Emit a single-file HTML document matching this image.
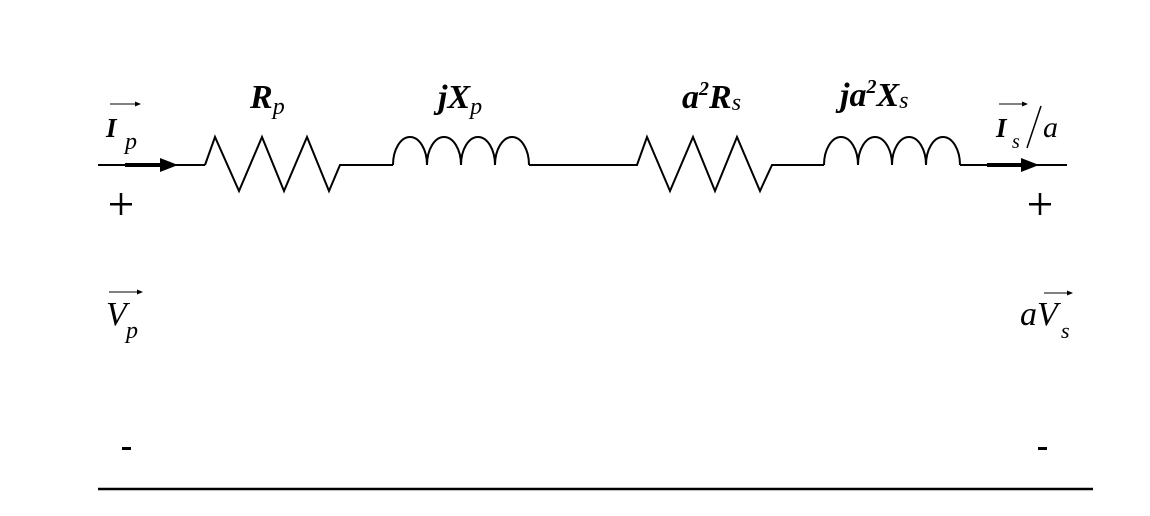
<!DOCTYPE html>
<html><head><meta charset="utf-8"><style>
html,body{margin:0;padding:0;background:#fff;}
svg{display:block;}
text{font-family:"Liberation Serif",serif;font-style:italic;fill:#000;}
</style></head><body>
<svg width="1150" height="516" viewBox="0 0 1150 516" xmlns="http://www.w3.org/2000/svg">
<defs><marker id="sa" markerWidth="6" markerHeight="6" refX="5" refY="3" orient="auto" markerUnits="userSpaceOnUse"><path d="M0,0.5 L6,3 L0,5.5 Z" fill="#000"/></marker></defs>
<g fill="none" stroke="#000" stroke-width="2" stroke-linejoin="miter">
<line x1="98" y1="165" x2="205" y2="165"/>
<polyline points="205,165 215,137 239,191 262,137 284,191 307,137 329,191 340,165 393,165"/>
<path d="M393,165 A17,28 0 0 1 427,165 A17,28 0 0 1 461,165 A17,28 0 0 1 495,165 A17,28 0 0 1 529,165"/>
<polyline points="529,165 637,165 647,137 670,191 693,137 715,191 737,137 760,191 772,165 824,165"/>
<path d="M824,165 A17,28 0 0 1 858,165 A17,28 0 0 1 892,165 A17,28 0 0 1 926,165 A17,28 0 0 1 960,165"/>
<line x1="960" y1="165" x2="1067" y2="165"/>
<line x1="98" y1="489" x2="1093" y2="489" stroke-width="2.5"/>
</g>
<line x1="125" y1="165" x2="165" y2="165" stroke="#000" stroke-width="4"/>
<path d="M160,158 L178,165 L160,172 Z" fill="#000"/>
<line x1="987" y1="165" x2="1026" y2="165" stroke="#000" stroke-width="4"/>
<path d="M1021,158 L1039,165 L1021,172 Z" fill="#000"/>
<g stroke="#000" stroke-width="1">
<line x1="110" y1="104" x2="140" y2="104" marker-end="url(#sa)"/>
<line x1="999" y1="104" x2="1027" y2="104" marker-end="url(#sa)"/>
<line x1="109" y1="292" x2="142" y2="292" marker-end="url(#sa)"/>
<line x1="1044" y1="293" x2="1072" y2="293" marker-end="url(#sa)"/>
</g>
<text x="106" y="137" font-size="27" font-weight="bold">I</text><text x="125" y="149" font-size="24">p</text>
<text x="996" y="137" font-size="27" font-weight="bold">I</text><text x="1012" y="148" font-size="20">s</text>
<line x1="1041" y1="106" x2="1027" y2="148" stroke="#000" stroke-width="1.5"/>
<text x="1043" y="137" font-size="30">a</text>
<text x="250" y="108" font-size="34" font-weight="bold">R<tspan font-size="24" font-weight="normal" dy="6">p</tspan></text>
<text x="438" y="108" font-size="34" font-weight="bold">jX<tspan font-size="24" font-weight="normal" dy="6">p</tspan></text>
<text x="682" y="108" font-size="34" font-weight="bold">a<tspan font-size="20" dy="-13">2</tspan><tspan dy="13">R</tspan><tspan font-size="24" font-weight="normal" dy="2">s</tspan></text>
<text x="840" y="106" font-size="34" font-weight="bold">ja<tspan font-size="20" dy="-13">2</tspan><tspan dy="13">X</tspan><tspan font-size="24" font-weight="normal" dy="2">s</tspan></text>
<text x="106" y="325" font-size="34">V</text><text x="126" y="338" font-size="24">p</text>
<text x="1020" y="325" font-size="34">a</text><text x="1037" y="325" font-size="34">V</text><text x="1061" y="338" font-size="22">s</text>
<g fill="#000">
<rect x="110" y="203" width="22" height="2.5"/><rect x="119.75" y="193" width="2.5" height="22"/>
<rect x="1029" y="203" width="22" height="2.5"/><rect x="1038.75" y="193" width="2.5" height="22"/>
<rect x="122" y="447" width="9" height="3"/>
<rect x="1038" y="447" width="9" height="3"/>
</g>
</svg>
</body></html>
